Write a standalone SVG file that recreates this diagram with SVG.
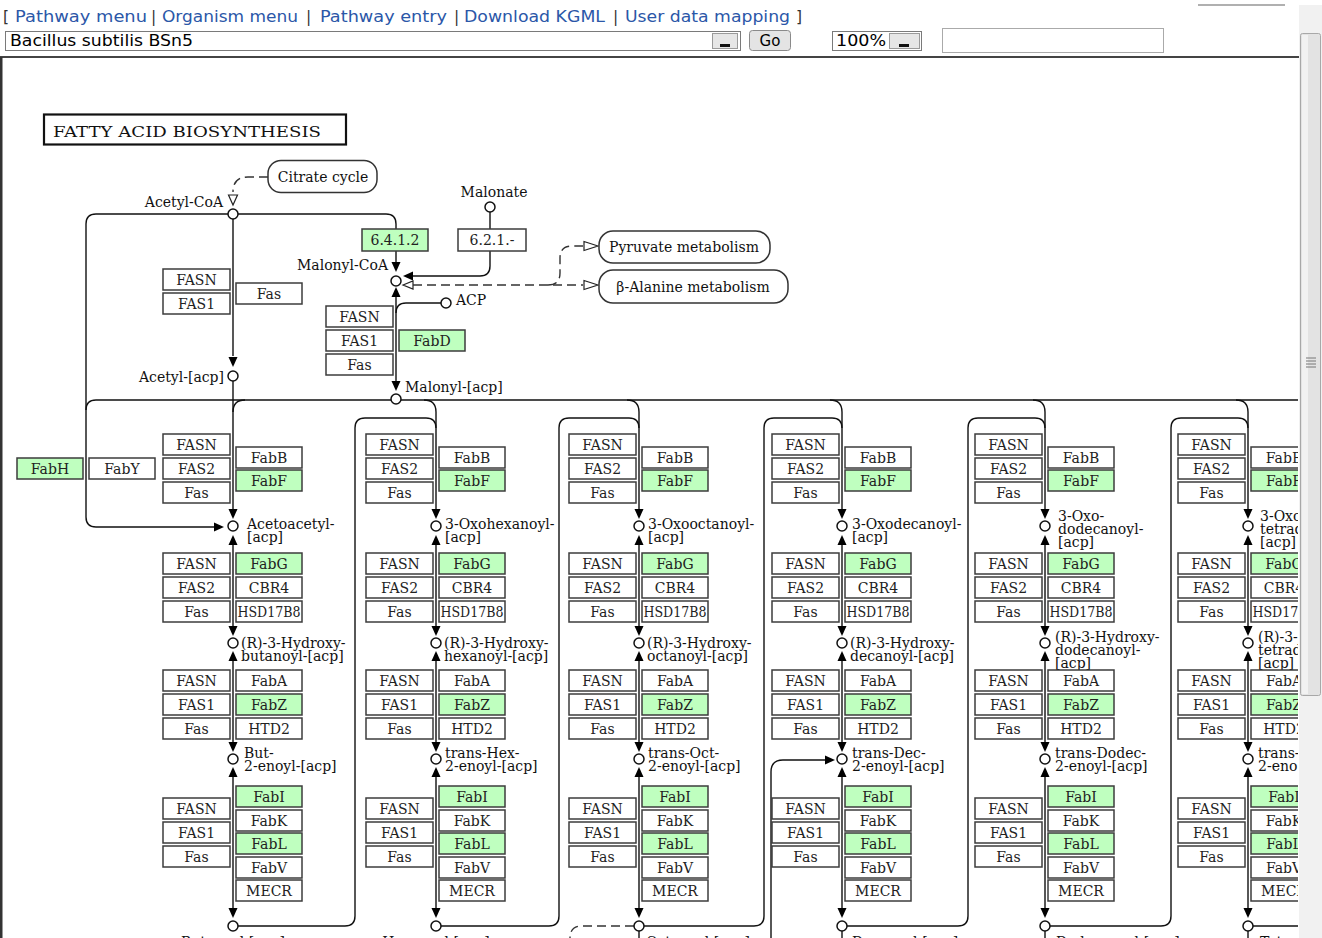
<svg xmlns="http://www.w3.org/2000/svg" width="1322" height="938" viewBox="0 0 1322 938">
<style>
.b{fill:#fff;stroke:#3c3c3c;stroke-width:1.5}
.g{fill:#bfffbf}
.t{font-family:"DejaVu Serif",serif;font-size:14px;fill:#222;text-anchor:middle}
.l{font-family:"DejaVu Serif",serif;font-size:14px;fill:#111}
.r{text-anchor:end}
.ln{fill:none;stroke:#111;stroke-width:1.4}
.dash{fill:none;stroke:#333;stroke-width:1.4;stroke-dasharray:9 5}
.cp{fill:#fff;stroke:#111;stroke-width:1.5}
.ah{fill:#000}
.oh{fill:#fff;stroke:#222;stroke-width:1.2}
.mp{fill:#fff;stroke:#333;stroke-width:1.5}
.nav{font-family:"DejaVu Sans",sans-serif;font-size:15.5px;fill:#2b57a8}
.sep{font-family:"DejaVu Sans",sans-serif;font-size:15.5px;fill:#333}
.ui{font-family:"DejaVu Sans",sans-serif;font-size:15px;fill:#000}
</style>
<defs>
<path id="ad" d="M-4.5,-10 L4.5,-10 L0,0 Z"/>
<path id="au" d="M-4.5,10 L4.5,10 L0,0 Z"/>
<path id="ar" d="M-10,-4.5 L-10,4.5 L0,0 Z"/>
<path id="al" d="M10,-4.5 L10,4.5 L0,0 Z"/>
<clipPath id="mapclip"><rect x="2" y="58" width="1296" height="880"/></clipPath>
</defs>
<rect width="1322" height="938" fill="#fff"/>

<!-- page header -->
<g id="header">
<text class="sep" x="3" y="22">[</text>
<text class="nav" x="15" y="22" textLength="132" lengthAdjust="spacingAndGlyphs">Pathway menu</text>
<text class="sep" x="151" y="22">|</text>
<text class="nav" x="162" y="22" textLength="136" lengthAdjust="spacingAndGlyphs">Organism menu</text>
<text class="sep" x="306" y="22">|</text>
<text class="nav" x="320" y="22" textLength="127" lengthAdjust="spacingAndGlyphs">Pathway entry</text>
<text class="sep" x="454" y="22">|</text>
<text class="nav" x="464" y="22" textLength="141" lengthAdjust="spacingAndGlyphs">Download KGML</text>
<text class="sep" x="613" y="22">|</text>
<text class="nav" x="625" y="22" textLength="165" lengthAdjust="spacingAndGlyphs">User data mapping</text>
<text class="sep" x="796" y="22">]</text>
<line x1="1198" y1="5" x2="1285" y2="5" stroke="#b0b0b0" stroke-width="2"/>
<rect x="5.5" y="31.5" width="735" height="19" fill="#fff" stroke="#7a7a7a"/>
<text class="ui" x="10" y="46" textLength="183" lengthAdjust="spacingAndGlyphs">Bacillus subtilis BSn5</text>
<rect x="712.5" y="33.5" width="25" height="15" fill="#e6e6e6" stroke="#9a9a9a"/>
<rect x="720" y="44" width="10" height="3" fill="#111"/>
<rect x="749.5" y="30.5" width="41" height="20" rx="3" fill="#e4e4e4" stroke="#8a8a8a"/>
<text class="ui" x="770" y="46" text-anchor="middle">Go</text>
<rect x="832.5" y="31.5" width="89" height="19" fill="#fff" stroke="#7a7a7a"/>
<text class="ui" x="836" y="46" textLength="50" lengthAdjust="spacingAndGlyphs">100%</text>
<rect x="889.5" y="33.5" width="30" height="15" fill="#e6e6e6" stroke="#9a9a9a"/>
<rect x="899" y="44" width="10" height="3" fill="#111"/>
<rect x="942.5" y="28.5" width="221" height="24" fill="#fff" stroke="#aaaaaa"/>
</g>

<!-- scrollbar -->
<g id="scrollbar">
<rect x="1299" y="5" width="23" height="933" fill="#f1f1f1"/>
<rect x="1300.5" y="33.5" width="20" height="662" rx="2" fill="#e3e3e3" stroke="#a8a8a8"/>
<rect x="1302" y="35" width="6" height="659" fill="#f2f2f2"/>
<line x1="1306" y1="358" x2="1316" y2="358" stroke="#777"/>
<line x1="1306" y1="361" x2="1316" y2="361" stroke="#777"/>
<line x1="1306" y1="364" x2="1316" y2="364" stroke="#777"/>
<line x1="1306" y1="367" x2="1316" y2="367" stroke="#777"/>
</g>

<!-- map frame -->
<line x1="0" y1="57" x2="1299" y2="57" stroke="#444" stroke-width="2"/>
<rect x="0" y="57" width="2.5" height="881" fill="#333"/>

<g id="map" clip-path="url(#mapclip)">

<g id="title"><rect x="44" y="114.5" width="302" height="30" fill="#fff" stroke="#111" stroke-width="2.2"/>
<text class="l" x="53" y="137" font-size="16.5" textLength="268" lengthAdjust="spacingAndGlyphs">FATTY  ACID  BIOSYNTHESIS</text></g>

<!-- connectors -->
<g id="connectors">
<path class="dash" d="M268,177 H248 Q233,177 233,192"/>
<polygon class="oh" points="228.5,195 237.5,195 233,205"/>
<path class="ln" d="M228,214 H96 Q86,214 86,224 V517 Q86,527 96,527 H214"/>
<use href="#ar" class="ah" x="224" y="527"/>
<path class="ln" d="M238,214 H386 Q396,214 396,224 V229"/>
<path class="ln" d="M396,251 V262"/>
<use href="#ad" class="ah" x="396" y="272"/>
<path class="ln" d="M233,219 V356"/>
<use href="#ad" class="ah" x="233" y="367"/>
<path class="ln" d="M490,212 V229 M490,251 V266 Q490,276 480,276 H412"/>
<use href="#al" class="ah" x="403" y="276"/>
<polygon class="oh" points="403,285 413,281 413,289"/>
<path class="dash" d="M413,285 H583"/>
<path class="dash" d="M548,285 Q560,285 560,273 V258 Q560,246 572,246 H583"/>
<polygon class="oh" points="598,246 584,241.5 584,250.5"/>
<polygon class="oh" points="598,285 584,280.5 584,289.5"/>
<use href="#au" class="ah" x="396" y="287"/>
<path class="ln" d="M396,297 V381"/>
<use href="#ad" class="ah" x="396" y="391"/>
<path class="ln" d="M441,303 H406 Q396,303 396,313"/>
<path class="ln" d="M1298,400 H96 Q86,400 86,410"/>
<path class="ln" d="M245,400 Q233,400 233,412"/>
<path class="ln" d="M424,400 Q436,400 436,412"/>
<path class="ln" d="M627,400 Q639,400 639,412"/>
<path class="ln" d="M830,400 Q842,400 842,412"/>
<path class="ln" d="M1033,400 Q1045,400 1045,412"/>
<path class="ln" d="M1236,400 Q1248,400 1248,412"/>
<path class="ln" d="M238,926 H345 Q355,926 355,916 V428 Q355,418 365,418 H426 Q436,418 436,428"/>
<path class="ln" d="M441,926 H549 Q559,926 559,916 V428 Q559,418 569,418 H629 Q639,418 639,428"/>
<path class="ln" d="M644,926 H754 Q764,926 764,916 V428 Q764,418 774,418 H832 Q842,418 842,428"/>
<path class="ln" d="M847,926 H958 Q968,926 968,916 V428 Q968,418 978,418 H1035 Q1045,418 1045,428"/>
<path class="ln" d="M1050,926 H1161 Q1171,926 1171,916 V428 Q1171,418 1181,418 H1238 Q1248,418 1248,428"/>
<path class="ln" d="M1253,926 H1298"/>
<path class="dash" d="M634,926 H582 Q570,926 570,938 V945"/>
<path class="ln" d="M771,945 V772 Q771,760 783,760 H826"/>
<use href="#ar" class="ah" x="835" y="760"/>
<path class="ln" d="M639,931 V945 M842,931 V945 M1045,931 V945 M1248,931 V945"/>
<path class="ln" d="M233,381 V510"/>
<path class="ln" d="M436,412 V510 M639,412 V510 M842,412 V510 M1045,412 V510 M1248,412 V510"/>
<path class="ln" d="M233,543 V627 M233,659 V743 M233,775 V909"/>
<path class="ln" d="M436,543 V627 M436,659 V743 M436,775 V909"/>
<path class="ln" d="M639,543 V627 M639,659 V743 M639,775 V909"/>
<path class="ln" d="M842,543 V627 M842,659 V743 M842,775 V909"/>
<path class="ln" d="M1045,543 V627 M1045,659 V743 M1045,775 V909"/>
<path class="ln" d="M1248,543 V627 M1248,659 V743 M1248,775 V909"/>
<g class="ah">
<use href="#ad" x="233" y="519"/><use href="#au" x="233" y="535"/><use href="#ad" x="233" y="636"/><use href="#au" x="233" y="651"/><use href="#ad" x="233" y="752"/><use href="#au" x="233" y="767"/><use href="#ad" x="233" y="918"/>
<use href="#ad" x="436" y="519"/><use href="#au" x="436" y="535"/><use href="#ad" x="436" y="636"/><use href="#au" x="436" y="651"/><use href="#ad" x="436" y="752"/><use href="#au" x="436" y="767"/><use href="#ad" x="436" y="918"/>
<use href="#ad" x="639" y="519"/><use href="#au" x="639" y="535"/><use href="#ad" x="639" y="636"/><use href="#au" x="639" y="651"/><use href="#ad" x="639" y="752"/><use href="#au" x="639" y="767"/><use href="#ad" x="639" y="918"/>
<use href="#ad" x="842" y="519"/><use href="#au" x="842" y="535"/><use href="#ad" x="842" y="636"/><use href="#au" x="842" y="651"/><use href="#ad" x="842" y="752"/><use href="#au" x="842" y="767"/><use href="#ad" x="842" y="918"/>
<use href="#ad" x="1045" y="519"/><use href="#au" x="1045" y="535"/><use href="#ad" x="1045" y="636"/><use href="#au" x="1045" y="651"/><use href="#ad" x="1045" y="752"/><use href="#au" x="1045" y="767"/><use href="#ad" x="1045" y="918"/>
<use href="#ad" x="1248" y="519"/><use href="#au" x="1248" y="535"/><use href="#ad" x="1248" y="636"/><use href="#au" x="1248" y="651"/><use href="#ad" x="1248" y="752"/><use href="#au" x="1248" y="767"/><use href="#ad" x="1248" y="918"/>
</g>
</g>

<!-- maps -->
<g id="map-citrate"><rect class="mp" x="268" y="160.5" width="109" height="32" rx="13"/><text class="l" x="323" y="182" text-anchor="middle">Citrate cycle</text></g>
<g id="map-pyruvate"><rect class="mp" x="599" y="231" width="171" height="32" rx="14"/><text class="l" x="684" y="252" text-anchor="middle">Pyruvate metabolism</text></g>
<g id="map-alanine"><rect class="mp" x="599" y="270" width="189" height="33" rx="14"/><text class="l" x="693" y="292" text-anchor="middle">β-Alanine metabolism</text></g>

<!-- compounds -->
<g id="acetylcoa"><circle class="cp" cx="233" cy="214" r="5"/><text class="l r" x="223" y="207">Acetyl-CoA</text></g>
<g id="malonylcoa"><circle class="cp" cx="396" cy="281" r="5"/><text class="l r" x="388" y="270">Malonyl-CoA</text></g>
<g id="malonate"><circle class="cp" cx="490" cy="207" r="5"/><text class="l" x="494" y="197" text-anchor="middle">Malonate</text></g>
<g id="acp"><circle class="cp" cx="446" cy="303" r="5"/><text class="l" x="456" y="305">ACP</text></g>
<g id="acetylacp"><circle class="cp" cx="233" cy="376" r="5"/><text class="l r" x="224" y="382">Acetyl-[acp]</text></g>
<g id="malonylacp"><circle class="cp" cx="396" cy="399" r="5"/><text class="l" x="405" y="392">Malonyl-[acp]</text></g>

<!-- top enzymes -->
<g id="e6412"><rect class="b g" x="362" y="229" width="66" height="22"/><text class="t" x="395" y="245">6.4.1.2</text></g>
<g id="e621"><rect class="b" x="458" y="229" width="68" height="22"/><text class="t" x="492" y="245">6.2.1.-</text></g>
<g id="e-fasn-a"><rect class="b" x="163" y="269" width="67" height="21"/><text class="t" x="196.5" y="284.5">FASN</text></g>
<g id="e-fas1-a"><rect class="b" x="163" y="293" width="67" height="21"/><text class="t" x="196.5" y="308.5">FAS1</text></g>
<g id="e-fas-a"><rect class="b" x="236" y="283" width="66" height="21"/><text class="t" x="269" y="298.5">Fas</text></g>
<g id="e-fasn-m"><rect class="b" x="326" y="306" width="67" height="21"/><text class="t" x="359.5" y="321.5">FASN</text></g>
<g id="e-fas1-m"><rect class="b" x="326" y="330" width="67" height="21"/><text class="t" x="359.5" y="345.5">FAS1</text></g>
<g id="e-fas-m"><rect class="b" x="326" y="354" width="67" height="21"/><text class="t" x="359.5" y="369.5">Fas</text></g>
<g id="e-fabd"><rect class="b g" x="399" y="330" width="66" height="21"/><text class="t" x="432" y="345.5">FabD</text></g>
<g id="e-fabh"><rect class="b g" x="17" y="458" width="66" height="21"/><text class="t" x="50" y="473.5">FabH</text></g>
<g id="e-faby"><rect class="b" x="89" y="458" width="66" height="21"/><text class="t" x="122" y="473.5">FabY</text></g>

<!-- compound circles in columns -->
<g id="col-circles">
<circle class="cp" cx="233" cy="526" r="5"/><circle class="cp" cx="233" cy="643" r="5"/><circle class="cp" cx="233" cy="759" r="5"/><circle class="cp" cx="233" cy="926" r="5"/>
<circle class="cp" cx="436" cy="526" r="5"/><circle class="cp" cx="436" cy="643" r="5"/><circle class="cp" cx="436" cy="759" r="5"/><circle class="cp" cx="436" cy="926" r="5"/>
<circle class="cp" cx="639" cy="526" r="5"/><circle class="cp" cx="639" cy="643" r="5"/><circle class="cp" cx="639" cy="759" r="5"/><circle class="cp" cx="639" cy="926" r="5"/>
<circle class="cp" cx="842" cy="526" r="5"/><circle class="cp" cx="842" cy="643" r="5"/><circle class="cp" cx="842" cy="759" r="5"/><circle class="cp" cx="842" cy="926" r="5"/>
<circle class="cp" cx="1045" cy="526" r="5"/><circle class="cp" cx="1045" cy="643" r="5"/><circle class="cp" cx="1045" cy="759" r="5"/><circle class="cp" cx="1045" cy="926" r="5"/>
<circle class="cp" cx="1248" cy="526" r="5"/><circle class="cp" cx="1248" cy="643" r="5"/><circle class="cp" cx="1248" cy="759" r="5"/><circle class="cp" cx="1248" cy="926" r="5"/>
</g>

<!-- compound labels -->
<g id="col1-labels">
<text class="l" x="247" y="529">Acetoacetyl-<tspan x="247" dy="13">[acp]</tspan></text>
<text class="l" x="241" y="648">(R)-3-Hydroxy-<tspan x="241" dy="13">butanoyl-[acp]</tspan></text>
<text class="l" x="244" y="758">But-<tspan x="244" dy="13">2-enoyl-[acp]</tspan></text>
<text class="l" x="233" y="947" text-anchor="middle">Butanoyl-[acp]</text>
</g>
<g id="col2-labels">
<text class="l" x="445" y="529">3-Oxohexanoyl-<tspan x="445" dy="13">[acp]</tspan></text>
<text class="l" x="444" y="648">(R)-3-Hydroxy-<tspan x="444" dy="13">hexanoyl-[acp]</tspan></text>
<text class="l" x="445" y="758">trans-Hex-<tspan x="445" dy="13">2-enoyl-[acp]</tspan></text>
<text class="l" x="436" y="947" text-anchor="middle">Hexanoyl-[acp]</text>
</g>
<g id="col3-labels">
<text class="l" x="648" y="529">3-Oxooctanoyl-<tspan x="648" dy="13">[acp]</tspan></text>
<text class="l" x="647" y="648">(R)-3-Hydroxy-<tspan x="647" dy="13">octanoyl-[acp]</tspan></text>
<text class="l" x="648" y="758">trans-Oct-<tspan x="648" dy="13">2-enoyl-[acp]</tspan></text>
<text class="l" x="646" y="947">Octanoyl-[acp]</text>
</g>
<g id="col4-labels">
<text class="l" x="852" y="529">3-Oxodecanoyl-<tspan x="852" dy="13">[acp]</tspan></text>
<text class="l" x="850" y="648">(R)-3-Hydroxy-<tspan x="850" dy="13">decanoyl-[acp]</tspan></text>
<text class="l" x="852" y="758">trans-Dec-<tspan x="852" dy="13">2-enoyl-[acp]</tspan></text>
<text class="l" x="852" y="947">Decanoyl-[acp]</text>
</g>
<g id="col5-labels">
<text class="l" x="1058" y="521">3-Oxo-<tspan x="1058" dy="13">dodecanoyl-</tspan><tspan x="1058" dy="13">[acp]</tspan></text>
<text class="l" x="1055" y="642">(R)-3-Hydroxy-<tspan x="1055" dy="13">dodecanoyl-</tspan><tspan x="1055" dy="13">[acp]</tspan></text>
<text class="l" x="1055" y="758">trans-Dodec-<tspan x="1055" dy="13">2-enoyl-[acp]</tspan></text>
<text class="l" x="1056" y="947">Dodecanoyl-[acp]</text>
</g>
<g id="col6-labels">
<text class="l" x="1260" y="521">3-Oxo-<tspan x="1260" dy="13">tetrad</tspan><tspan x="1260" dy="13">[acp]</tspan></text>
<text class="l" x="1258" y="642">(R)-3-<tspan x="1258" dy="13">tetrad</tspan><tspan x="1258" dy="13">[acp]</tspan></text>
<text class="l" x="1258" y="758">trans-<tspan x="1258" dy="13">2-eno</tspan></text>
<text class="l" x="1260" y="947">Tetr</text>
</g>

<!-- column enzymes: col1 -->
<g id="col1" transform="translate(233,0)">
<g id="c1-g1-fasn"><rect class="b" x="-70" y="434" width="67" height="21"/><text class="t" x="-36.5" y="449.5">FASN</text></g>
<g id="c1-g1-fas2"><rect class="b" x="-70" y="458" width="67" height="21"/><text class="t" x="-36.5" y="473.5">FAS2</text></g>
<g id="c1-g1-fas"><rect class="b" x="-70" y="482" width="67" height="21"/><text class="t" x="-36.5" y="497.5">Fas</text></g>
<g id="c1-fabb"><rect class="b" x="3" y="447" width="66" height="21"/><text class="t" x="36" y="462.5">FabB</text></g>
<g id="c1-fabf"><rect class="b g" x="3" y="470" width="66" height="21"/><text class="t" x="36" y="485.5">FabF</text></g>
<g id="c1-g2-fasn"><rect class="b" x="-70" y="553" width="67" height="21"/><text class="t" x="-36.5" y="568.5">FASN</text></g>
<g id="c1-g2-fas2"><rect class="b" x="-70" y="577" width="67" height="21"/><text class="t" x="-36.5" y="592.5">FAS2</text></g>
<g id="c1-g2-fas"><rect class="b" x="-70" y="601" width="67" height="21"/><text class="t" x="-36.5" y="616.5">Fas</text></g>
<g id="c1-fabg"><rect class="b g" x="3" y="553" width="66" height="21"/><text class="t" x="36" y="568.5">FabG</text></g>
<g id="c1-cbr4"><rect class="b" x="3" y="577" width="66" height="21"/><text class="t" x="36" y="592.5">CBR4</text></g>
<g id="c1-hsd"><rect class="b" x="3" y="601" width="66" height="21"/><text class="t" x="36" y="616.5" textLength="63" lengthAdjust="spacingAndGlyphs">HSD17B8</text></g>
<g id="c1-g3-fasn"><rect class="b" x="-70" y="670" width="67" height="21"/><text class="t" x="-36.5" y="685.5">FASN</text></g>
<g id="c1-g3-fas1"><rect class="b" x="-70" y="694" width="67" height="21"/><text class="t" x="-36.5" y="709.5">FAS1</text></g>
<g id="c1-g3-fas"><rect class="b" x="-70" y="718" width="67" height="21"/><text class="t" x="-36.5" y="733.5">Fas</text></g>
<g id="c1-faba"><rect class="b" x="3" y="670" width="66" height="21"/><text class="t" x="36" y="685.5">FabA</text></g>
<g id="c1-fabz"><rect class="b g" x="3" y="694" width="66" height="21"/><text class="t" x="36" y="709.5">FabZ</text></g>
<g id="c1-htd2"><rect class="b" x="3" y="718" width="66" height="21"/><text class="t" x="36" y="733.5">HTD2</text></g>
<g id="c1-g4-fasn"><rect class="b" x="-70" y="798" width="67" height="21"/><text class="t" x="-36.5" y="813.5">FASN</text></g>
<g id="c1-g4-fas1"><rect class="b" x="-70" y="822" width="67" height="21"/><text class="t" x="-36.5" y="837.5">FAS1</text></g>
<g id="c1-g4-fas"><rect class="b" x="-70" y="846" width="67" height="21"/><text class="t" x="-36.5" y="861.5">Fas</text></g>
<g id="c1-fabi"><rect class="b g" x="3" y="786" width="66" height="21"/><text class="t" x="36" y="801.5">FabI</text></g>
<g id="c1-fabk"><rect class="b" x="3" y="810" width="66" height="21"/><text class="t" x="36" y="825.5">FabK</text></g>
<g id="c1-fabl"><rect class="b g" x="3" y="833" width="66" height="21"/><text class="t" x="36" y="848.5">FabL</text></g>
<g id="c1-fabv"><rect class="b" x="3" y="857" width="66" height="21"/><text class="t" x="36" y="872.5">FabV</text></g>
<g id="c1-mecr"><rect class="b" x="3" y="880" width="66" height="21"/><text class="t" x="36" y="895.5">MECR</text></g>
</g>

<g id="col2" transform="translate(436,0)">
<g id="c2-g1-fasn"><rect class="b" x="-70" y="434" width="67" height="21"/><text class="t" x="-36.5" y="449.5">FASN</text></g>
<g id="c2-g1-fas2"><rect class="b" x="-70" y="458" width="67" height="21"/><text class="t" x="-36.5" y="473.5">FAS2</text></g>
<g id="c2-g1-fas"><rect class="b" x="-70" y="482" width="67" height="21"/><text class="t" x="-36.5" y="497.5">Fas</text></g>
<g id="c2-fabb"><rect class="b" x="3" y="447" width="66" height="21"/><text class="t" x="36" y="462.5">FabB</text></g>
<g id="c2-fabf"><rect class="b g" x="3" y="470" width="66" height="21"/><text class="t" x="36" y="485.5">FabF</text></g>
<g id="c2-g2-fasn"><rect class="b" x="-70" y="553" width="67" height="21"/><text class="t" x="-36.5" y="568.5">FASN</text></g>
<g id="c2-g2-fas2"><rect class="b" x="-70" y="577" width="67" height="21"/><text class="t" x="-36.5" y="592.5">FAS2</text></g>
<g id="c2-g2-fas"><rect class="b" x="-70" y="601" width="67" height="21"/><text class="t" x="-36.5" y="616.5">Fas</text></g>
<g id="c2-fabg"><rect class="b g" x="3" y="553" width="66" height="21"/><text class="t" x="36" y="568.5">FabG</text></g>
<g id="c2-cbr4"><rect class="b" x="3" y="577" width="66" height="21"/><text class="t" x="36" y="592.5">CBR4</text></g>
<g id="c2-hsd"><rect class="b" x="3" y="601" width="66" height="21"/><text class="t" x="36" y="616.5" textLength="63" lengthAdjust="spacingAndGlyphs">HSD17B8</text></g>
<g id="c2-g3-fasn"><rect class="b" x="-70" y="670" width="67" height="21"/><text class="t" x="-36.5" y="685.5">FASN</text></g>
<g id="c2-g3-fas1"><rect class="b" x="-70" y="694" width="67" height="21"/><text class="t" x="-36.5" y="709.5">FAS1</text></g>
<g id="c2-g3-fas"><rect class="b" x="-70" y="718" width="67" height="21"/><text class="t" x="-36.5" y="733.5">Fas</text></g>
<g id="c2-faba"><rect class="b" x="3" y="670" width="66" height="21"/><text class="t" x="36" y="685.5">FabA</text></g>
<g id="c2-fabz"><rect class="b g" x="3" y="694" width="66" height="21"/><text class="t" x="36" y="709.5">FabZ</text></g>
<g id="c2-htd2"><rect class="b" x="3" y="718" width="66" height="21"/><text class="t" x="36" y="733.5">HTD2</text></g>
<g id="c2-g4-fasn"><rect class="b" x="-70" y="798" width="67" height="21"/><text class="t" x="-36.5" y="813.5">FASN</text></g>
<g id="c2-g4-fas1"><rect class="b" x="-70" y="822" width="67" height="21"/><text class="t" x="-36.5" y="837.5">FAS1</text></g>
<g id="c2-g4-fas"><rect class="b" x="-70" y="846" width="67" height="21"/><text class="t" x="-36.5" y="861.5">Fas</text></g>
<g id="c2-fabi"><rect class="b g" x="3" y="786" width="66" height="21"/><text class="t" x="36" y="801.5">FabI</text></g>
<g id="c2-fabk"><rect class="b" x="3" y="810" width="66" height="21"/><text class="t" x="36" y="825.5">FabK</text></g>
<g id="c2-fabl"><rect class="b g" x="3" y="833" width="66" height="21"/><text class="t" x="36" y="848.5">FabL</text></g>
<g id="c2-fabv"><rect class="b" x="3" y="857" width="66" height="21"/><text class="t" x="36" y="872.5">FabV</text></g>
<g id="c2-mecr"><rect class="b" x="3" y="880" width="66" height="21"/><text class="t" x="36" y="895.5">MECR</text></g>
</g>

<g id="col3" transform="translate(639,0)">
<g id="c3-g1-fasn"><rect class="b" x="-70" y="434" width="67" height="21"/><text class="t" x="-36.5" y="449.5">FASN</text></g>
<g id="c3-g1-fas2"><rect class="b" x="-70" y="458" width="67" height="21"/><text class="t" x="-36.5" y="473.5">FAS2</text></g>
<g id="c3-g1-fas"><rect class="b" x="-70" y="482" width="67" height="21"/><text class="t" x="-36.5" y="497.5">Fas</text></g>
<g id="c3-fabb"><rect class="b" x="3" y="447" width="66" height="21"/><text class="t" x="36" y="462.5">FabB</text></g>
<g id="c3-fabf"><rect class="b g" x="3" y="470" width="66" height="21"/><text class="t" x="36" y="485.5">FabF</text></g>
<g id="c3-g2-fasn"><rect class="b" x="-70" y="553" width="67" height="21"/><text class="t" x="-36.5" y="568.5">FASN</text></g>
<g id="c3-g2-fas2"><rect class="b" x="-70" y="577" width="67" height="21"/><text class="t" x="-36.5" y="592.5">FAS2</text></g>
<g id="c3-g2-fas"><rect class="b" x="-70" y="601" width="67" height="21"/><text class="t" x="-36.5" y="616.5">Fas</text></g>
<g id="c3-fabg"><rect class="b g" x="3" y="553" width="66" height="21"/><text class="t" x="36" y="568.5">FabG</text></g>
<g id="c3-cbr4"><rect class="b" x="3" y="577" width="66" height="21"/><text class="t" x="36" y="592.5">CBR4</text></g>
<g id="c3-hsd"><rect class="b" x="3" y="601" width="66" height="21"/><text class="t" x="36" y="616.5" textLength="63" lengthAdjust="spacingAndGlyphs">HSD17B8</text></g>
<g id="c3-g3-fasn"><rect class="b" x="-70" y="670" width="67" height="21"/><text class="t" x="-36.5" y="685.5">FASN</text></g>
<g id="c3-g3-fas1"><rect class="b" x="-70" y="694" width="67" height="21"/><text class="t" x="-36.5" y="709.5">FAS1</text></g>
<g id="c3-g3-fas"><rect class="b" x="-70" y="718" width="67" height="21"/><text class="t" x="-36.5" y="733.5">Fas</text></g>
<g id="c3-faba"><rect class="b" x="3" y="670" width="66" height="21"/><text class="t" x="36" y="685.5">FabA</text></g>
<g id="c3-fabz"><rect class="b g" x="3" y="694" width="66" height="21"/><text class="t" x="36" y="709.5">FabZ</text></g>
<g id="c3-htd2"><rect class="b" x="3" y="718" width="66" height="21"/><text class="t" x="36" y="733.5">HTD2</text></g>
<g id="c3-g4-fasn"><rect class="b" x="-70" y="798" width="67" height="21"/><text class="t" x="-36.5" y="813.5">FASN</text></g>
<g id="c3-g4-fas1"><rect class="b" x="-70" y="822" width="67" height="21"/><text class="t" x="-36.5" y="837.5">FAS1</text></g>
<g id="c3-g4-fas"><rect class="b" x="-70" y="846" width="67" height="21"/><text class="t" x="-36.5" y="861.5">Fas</text></g>
<g id="c3-fabi"><rect class="b g" x="3" y="786" width="66" height="21"/><text class="t" x="36" y="801.5">FabI</text></g>
<g id="c3-fabk"><rect class="b" x="3" y="810" width="66" height="21"/><text class="t" x="36" y="825.5">FabK</text></g>
<g id="c3-fabl"><rect class="b g" x="3" y="833" width="66" height="21"/><text class="t" x="36" y="848.5">FabL</text></g>
<g id="c3-fabv"><rect class="b" x="3" y="857" width="66" height="21"/><text class="t" x="36" y="872.5">FabV</text></g>
<g id="c3-mecr"><rect class="b" x="3" y="880" width="66" height="21"/><text class="t" x="36" y="895.5">MECR</text></g>
</g>

<g id="col4" transform="translate(842,0)">
<g id="c4-g1-fasn"><rect class="b" x="-70" y="434" width="67" height="21"/><text class="t" x="-36.5" y="449.5">FASN</text></g>
<g id="c4-g1-fas2"><rect class="b" x="-70" y="458" width="67" height="21"/><text class="t" x="-36.5" y="473.5">FAS2</text></g>
<g id="c4-g1-fas"><rect class="b" x="-70" y="482" width="67" height="21"/><text class="t" x="-36.5" y="497.5">Fas</text></g>
<g id="c4-fabb"><rect class="b" x="3" y="447" width="66" height="21"/><text class="t" x="36" y="462.5">FabB</text></g>
<g id="c4-fabf"><rect class="b g" x="3" y="470" width="66" height="21"/><text class="t" x="36" y="485.5">FabF</text></g>
<g id="c4-g2-fasn"><rect class="b" x="-70" y="553" width="67" height="21"/><text class="t" x="-36.5" y="568.5">FASN</text></g>
<g id="c4-g2-fas2"><rect class="b" x="-70" y="577" width="67" height="21"/><text class="t" x="-36.5" y="592.5">FAS2</text></g>
<g id="c4-g2-fas"><rect class="b" x="-70" y="601" width="67" height="21"/><text class="t" x="-36.5" y="616.5">Fas</text></g>
<g id="c4-fabg"><rect class="b g" x="3" y="553" width="66" height="21"/><text class="t" x="36" y="568.5">FabG</text></g>
<g id="c4-cbr4"><rect class="b" x="3" y="577" width="66" height="21"/><text class="t" x="36" y="592.5">CBR4</text></g>
<g id="c4-hsd"><rect class="b" x="3" y="601" width="66" height="21"/><text class="t" x="36" y="616.5" textLength="63" lengthAdjust="spacingAndGlyphs">HSD17B8</text></g>
<g id="c4-g3-fasn"><rect class="b" x="-70" y="670" width="67" height="21"/><text class="t" x="-36.5" y="685.5">FASN</text></g>
<g id="c4-g3-fas1"><rect class="b" x="-70" y="694" width="67" height="21"/><text class="t" x="-36.5" y="709.5">FAS1</text></g>
<g id="c4-g3-fas"><rect class="b" x="-70" y="718" width="67" height="21"/><text class="t" x="-36.5" y="733.5">Fas</text></g>
<g id="c4-faba"><rect class="b" x="3" y="670" width="66" height="21"/><text class="t" x="36" y="685.5">FabA</text></g>
<g id="c4-fabz"><rect class="b g" x="3" y="694" width="66" height="21"/><text class="t" x="36" y="709.5">FabZ</text></g>
<g id="c4-htd2"><rect class="b" x="3" y="718" width="66" height="21"/><text class="t" x="36" y="733.5">HTD2</text></g>
<g id="c4-g4-fasn"><rect class="b" x="-70" y="798" width="67" height="21"/><text class="t" x="-36.5" y="813.5">FASN</text></g>
<g id="c4-g4-fas1"><rect class="b" x="-70" y="822" width="67" height="21"/><text class="t" x="-36.5" y="837.5">FAS1</text></g>
<g id="c4-g4-fas"><rect class="b" x="-70" y="846" width="67" height="21"/><text class="t" x="-36.5" y="861.5">Fas</text></g>
<g id="c4-fabi"><rect class="b g" x="3" y="786" width="66" height="21"/><text class="t" x="36" y="801.5">FabI</text></g>
<g id="c4-fabk"><rect class="b" x="3" y="810" width="66" height="21"/><text class="t" x="36" y="825.5">FabK</text></g>
<g id="c4-fabl"><rect class="b g" x="3" y="833" width="66" height="21"/><text class="t" x="36" y="848.5">FabL</text></g>
<g id="c4-fabv"><rect class="b" x="3" y="857" width="66" height="21"/><text class="t" x="36" y="872.5">FabV</text></g>
<g id="c4-mecr"><rect class="b" x="3" y="880" width="66" height="21"/><text class="t" x="36" y="895.5">MECR</text></g>
</g>

<g id="col5" transform="translate(1045,0)">
<g id="c5-g1-fasn"><rect class="b" x="-70" y="434" width="67" height="21"/><text class="t" x="-36.5" y="449.5">FASN</text></g>
<g id="c5-g1-fas2"><rect class="b" x="-70" y="458" width="67" height="21"/><text class="t" x="-36.5" y="473.5">FAS2</text></g>
<g id="c5-g1-fas"><rect class="b" x="-70" y="482" width="67" height="21"/><text class="t" x="-36.5" y="497.5">Fas</text></g>
<g id="c5-fabb"><rect class="b" x="3" y="447" width="66" height="21"/><text class="t" x="36" y="462.5">FabB</text></g>
<g id="c5-fabf"><rect class="b g" x="3" y="470" width="66" height="21"/><text class="t" x="36" y="485.5">FabF</text></g>
<g id="c5-g2-fasn"><rect class="b" x="-70" y="553" width="67" height="21"/><text class="t" x="-36.5" y="568.5">FASN</text></g>
<g id="c5-g2-fas2"><rect class="b" x="-70" y="577" width="67" height="21"/><text class="t" x="-36.5" y="592.5">FAS2</text></g>
<g id="c5-g2-fas"><rect class="b" x="-70" y="601" width="67" height="21"/><text class="t" x="-36.5" y="616.5">Fas</text></g>
<g id="c5-fabg"><rect class="b g" x="3" y="553" width="66" height="21"/><text class="t" x="36" y="568.5">FabG</text></g>
<g id="c5-cbr4"><rect class="b" x="3" y="577" width="66" height="21"/><text class="t" x="36" y="592.5">CBR4</text></g>
<g id="c5-hsd"><rect class="b" x="3" y="601" width="66" height="21"/><text class="t" x="36" y="616.5" textLength="63" lengthAdjust="spacingAndGlyphs">HSD17B8</text></g>
<g id="c5-g3-fasn"><rect class="b" x="-70" y="670" width="67" height="21"/><text class="t" x="-36.5" y="685.5">FASN</text></g>
<g id="c5-g3-fas1"><rect class="b" x="-70" y="694" width="67" height="21"/><text class="t" x="-36.5" y="709.5">FAS1</text></g>
<g id="c5-g3-fas"><rect class="b" x="-70" y="718" width="67" height="21"/><text class="t" x="-36.5" y="733.5">Fas</text></g>
<g id="c5-faba"><rect class="b" x="3" y="670" width="66" height="21"/><text class="t" x="36" y="685.5">FabA</text></g>
<g id="c5-fabz"><rect class="b g" x="3" y="694" width="66" height="21"/><text class="t" x="36" y="709.5">FabZ</text></g>
<g id="c5-htd2"><rect class="b" x="3" y="718" width="66" height="21"/><text class="t" x="36" y="733.5">HTD2</text></g>
<g id="c5-g4-fasn"><rect class="b" x="-70" y="798" width="67" height="21"/><text class="t" x="-36.5" y="813.5">FASN</text></g>
<g id="c5-g4-fas1"><rect class="b" x="-70" y="822" width="67" height="21"/><text class="t" x="-36.5" y="837.5">FAS1</text></g>
<g id="c5-g4-fas"><rect class="b" x="-70" y="846" width="67" height="21"/><text class="t" x="-36.5" y="861.5">Fas</text></g>
<g id="c5-fabi"><rect class="b g" x="3" y="786" width="66" height="21"/><text class="t" x="36" y="801.5">FabI</text></g>
<g id="c5-fabk"><rect class="b" x="3" y="810" width="66" height="21"/><text class="t" x="36" y="825.5">FabK</text></g>
<g id="c5-fabl"><rect class="b g" x="3" y="833" width="66" height="21"/><text class="t" x="36" y="848.5">FabL</text></g>
<g id="c5-fabv"><rect class="b" x="3" y="857" width="66" height="21"/><text class="t" x="36" y="872.5">FabV</text></g>
<g id="c5-mecr"><rect class="b" x="3" y="880" width="66" height="21"/><text class="t" x="36" y="895.5">MECR</text></g>
</g>

<g id="col6" transform="translate(1248,0)">
<g id="c6-g1-fasn"><rect class="b" x="-70" y="434" width="67" height="21"/><text class="t" x="-36.5" y="449.5">FASN</text></g>
<g id="c6-g1-fas2"><rect class="b" x="-70" y="458" width="67" height="21"/><text class="t" x="-36.5" y="473.5">FAS2</text></g>
<g id="c6-g1-fas"><rect class="b" x="-70" y="482" width="67" height="21"/><text class="t" x="-36.5" y="497.5">Fas</text></g>
<g id="c6-fabb"><rect class="b" x="3" y="447" width="66" height="21"/><text class="t" x="36" y="462.5">FabB</text></g>
<g id="c6-fabf"><rect class="b g" x="3" y="470" width="66" height="21"/><text class="t" x="36" y="485.5">FabF</text></g>
<g id="c6-g2-fasn"><rect class="b" x="-70" y="553" width="67" height="21"/><text class="t" x="-36.5" y="568.5">FASN</text></g>
<g id="c6-g2-fas2"><rect class="b" x="-70" y="577" width="67" height="21"/><text class="t" x="-36.5" y="592.5">FAS2</text></g>
<g id="c6-g2-fas"><rect class="b" x="-70" y="601" width="67" height="21"/><text class="t" x="-36.5" y="616.5">Fas</text></g>
<g id="c6-fabg"><rect class="b g" x="3" y="553" width="66" height="21"/><text class="t" x="36" y="568.5">FabG</text></g>
<g id="c6-cbr4"><rect class="b" x="3" y="577" width="66" height="21"/><text class="t" x="36" y="592.5">CBR4</text></g>
<g id="c6-hsd"><rect class="b" x="3" y="601" width="66" height="21"/><text class="t" x="36" y="616.5" textLength="63" lengthAdjust="spacingAndGlyphs">HSD17B8</text></g>
<g id="c6-g3-fasn"><rect class="b" x="-70" y="670" width="67" height="21"/><text class="t" x="-36.5" y="685.5">FASN</text></g>
<g id="c6-g3-fas1"><rect class="b" x="-70" y="694" width="67" height="21"/><text class="t" x="-36.5" y="709.5">FAS1</text></g>
<g id="c6-g3-fas"><rect class="b" x="-70" y="718" width="67" height="21"/><text class="t" x="-36.5" y="733.5">Fas</text></g>
<g id="c6-faba"><rect class="b" x="3" y="670" width="66" height="21"/><text class="t" x="36" y="685.5">FabA</text></g>
<g id="c6-fabz"><rect class="b g" x="3" y="694" width="66" height="21"/><text class="t" x="36" y="709.5">FabZ</text></g>
<g id="c6-htd2"><rect class="b" x="3" y="718" width="66" height="21"/><text class="t" x="36" y="733.5">HTD2</text></g>
<g id="c6-g4-fasn"><rect class="b" x="-70" y="798" width="67" height="21"/><text class="t" x="-36.5" y="813.5">FASN</text></g>
<g id="c6-g4-fas1"><rect class="b" x="-70" y="822" width="67" height="21"/><text class="t" x="-36.5" y="837.5">FAS1</text></g>
<g id="c6-g4-fas"><rect class="b" x="-70" y="846" width="67" height="21"/><text class="t" x="-36.5" y="861.5">Fas</text></g>
<g id="c6-fabi"><rect class="b g" x="3" y="786" width="66" height="21"/><text class="t" x="36" y="801.5">FabI</text></g>
<g id="c6-fabk"><rect class="b" x="3" y="810" width="66" height="21"/><text class="t" x="36" y="825.5">FabK</text></g>
<g id="c6-fabl"><rect class="b g" x="3" y="833" width="66" height="21"/><text class="t" x="36" y="848.5">FabL</text></g>
<g id="c6-fabv"><rect class="b" x="3" y="857" width="66" height="21"/><text class="t" x="36" y="872.5">FabV</text></g>
<g id="c6-mecr"><rect class="b" x="3" y="880" width="66" height="21"/><text class="t" x="36" y="895.5">MECR</text></g>
</g>

</g>
</svg>
